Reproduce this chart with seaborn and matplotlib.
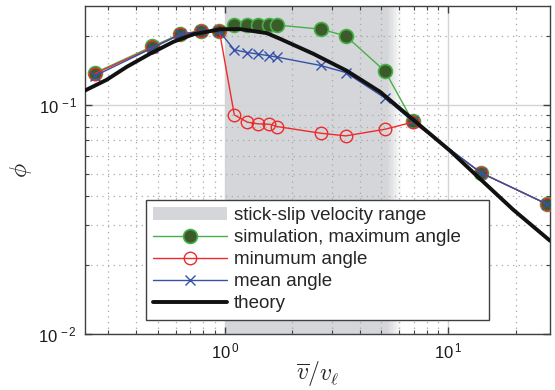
"""
plot.py

Description:
   Log-log plot of the stick-slip angle phi against normalised velocity,
   simulation (max / min / mean angle) compared with theory.
"""

# Related Third-party Imports
import matplotlib
matplotlib.use('Agg')
import matplotlib.pyplot as plt
import matplotlib.ticker as mticker
import numpy             as np
import seaborn           as sns

# Global Definitions
GREEN_LINE  = '#46b048'
GREEN_FACE  = '#3b5b2a'
RED         = '#ee2b2b'
BLUE        = '#3452a8'
SHADE       = '#d5d6d9'
SPINE       = '#404040'

# ===================================================================================================
# Data
v_ratio  = [0.262, 0.473, 0.631, 0.781, 0.943, 1.10, 1.26, 1.41, 1.58, 1.71,
            2.68, 3.47, 5.21, 6.93, 14.0, 27.6]
phi_max  = [0.138, 0.180, 0.204, 0.210, 0.210, 0.222, 0.224, 0.224, 0.224, 0.223,
            0.214, 0.200, 0.140, 0.0846, 0.0505, 0.0369]
phi_min  = [0.137, 0.178, 0.203, 0.210, 0.210, 0.0904, 0.0840, 0.0826, 0.0823, 0.0804,
            0.0752, 0.0732, 0.0783, 0.0840, 0.0505, 0.0369]
phi_mean = [0.134, 0.177, 0.203, 0.209, 0.209, 0.1739, 0.1692, 0.1665, 0.1637, 0.1615,
            0.1485, 0.1384, 0.1070, 0.0846, 0.0505, 0.0369]

theory_x = [0.236, 0.295, 0.363, 0.461, 0.587, 0.721, 0.950, 1.167, 1.537, 1.763,
            2.022, 2.485, 3.508, 4.945, 7.22, 10.18, 13.87, 19.55, 28.55]
theory_y = [0.1155, 0.1286, 0.1465, 0.1670, 0.1884, 0.2032, 0.2137, 0.2141, 0.2056, 0.1942,
            0.1828, 0.1670, 0.1408, 0.1140, 0.0835, 0.0630, 0.0475, 0.0348, 0.0255]

stick_slip = (1.0, 6.0)
# ===================================================================================================

# ===================================================================================================
sns.set_style('ticks')
plt.rcParams['font.family']      = ['Liberation Sans', 'DejaVu Sans']
plt.rcParams['mathtext.fontset'] = 'custom'
plt.rcParams['mathtext.rm']      = 'Liberation Sans'
plt.rcParams['mathtext.it']      = 'Liberation Sans:italic'

fig = plt.figure(figsize=(5.55, 3.9), dpi=100)
ax  = fig.add_axes([85 / 555, 1 - 334 / 390, 465 / 555, 328 / 390])

# shaded range, solid part plus a soft right edge
ax.axvspan(stick_slip[0], stick_slip[1] * 0.89, color=SHADE, lw=0, zorder=0.2,
           label='stick-slip velocity range')
fade = np.geomspace(stick_slip[1] * 0.89, stick_slip[1] * 1.02, 9)
for i in range(len(fade) - 1):
    ax.axvspan(fade[i], fade[i + 1], color=SHADE, lw=0, zorder=0.2,
               alpha=1 - (i + 1) / len(fade))

sns.lineplot(x=v_ratio, y=phi_max, ax=ax, sort=False, estimator=None,
             color=GREEN_LINE, lw=1.0, marker='o', markersize=10,
             markerfacecolor=GREEN_FACE, markeredgecolor=GREEN_LINE,
             markeredgewidth=1.2, label='simulation, maximum angle', zorder=3)
sns.lineplot(x=v_ratio, y=phi_min, ax=ax, sort=False, estimator=None,
             color=RED, lw=1.0, marker='o', markersize=9,
             markerfacecolor='none', markeredgecolor=RED,
             markeredgewidth=1.0, label='minumum angle', zorder=4)
sns.lineplot(x=v_ratio, y=phi_mean, ax=ax, sort=False, estimator=None,
             color=BLUE, lw=1.0, marker='x', markersize=7,
             markeredgecolor=BLUE, markeredgewidth=1.0,
             label='mean angle', zorder=5)
sns.lineplot(x=theory_x, y=theory_y, ax=ax, sort=False, estimator=None,
             color='#111111', lw=2.8, label='theory', zorder=6)

ax.set_xscale('log')
ax.set_yscale('log')
ax.set_xlim(0.236, 28.5)
ax.set_ylim(0.01, 0.27)

# decade labels written as 10 with a spaced superscript
decade_fmt = mticker.FuncFormatter(
    lambda v, pos: r'$\mathregular{10^{\,%d}}$' % int(round(np.log10(v))))
for axis in (ax.xaxis, ax.yaxis):
    axis.set_major_locator(mticker.LogLocator(base=10))
    axis.set_major_formatter(decade_fmt)
    axis.set_minor_locator(mticker.LogLocator(base=10, subs=np.arange(2, 10)))
    axis.set_minor_formatter(mticker.NullFormatter())

ax.set_axisbelow(True)
ax.grid(True, which='major', color='#d4d4d4', lw=1.0, ls='-')
ax.grid(True, which='minor', color='#a8a8a8', lw=0.9, ls=(0, (1, 3.5)))

ax.tick_params(which='both', direction='in', top=True, right=True,
               colors=SPINE, labelcolor='#1a1a1a', labelsize=12)
ax.tick_params(which='major', length=5, width=1.0, pad=5.5)
ax.tick_params(which='minor', length=3, width=0.8)
for spine in ax.spines.values():
    spine.set_color(SPINE)
    spine.set_linewidth(1.0)

ax.set_xlabel(r'$\overline{v}/v_\ell$', fontsize=17, math_fontfamily='cm')
ax.set_ylabel(r'$\phi$', fontsize=17, math_fontfamily='cm')
ax.xaxis.set_label_coords(0.5, -0.12)
ax.xaxis.label.set_va('center')
ax.yaxis.set_label_coords(-0.138, 0.5)
ax.yaxis.label.set_va('center')

leg = ax.legend(loc='lower left', bbox_to_anchor=(0.1312, 0.0442, 0.7376, 0.5),
                mode='expand', fontsize=13.5, frameon=True, fancybox=False,
                framealpha=1, edgecolor=SPINE, handlelength=3.95,
                handletextpad=0.35, labelspacing=0.26, borderpad=0.38,
                borderaxespad=0)
leg.get_frame().set_linewidth(1.0)

fig.savefig('out.png', dpi=100)
# ===================================================================================================
